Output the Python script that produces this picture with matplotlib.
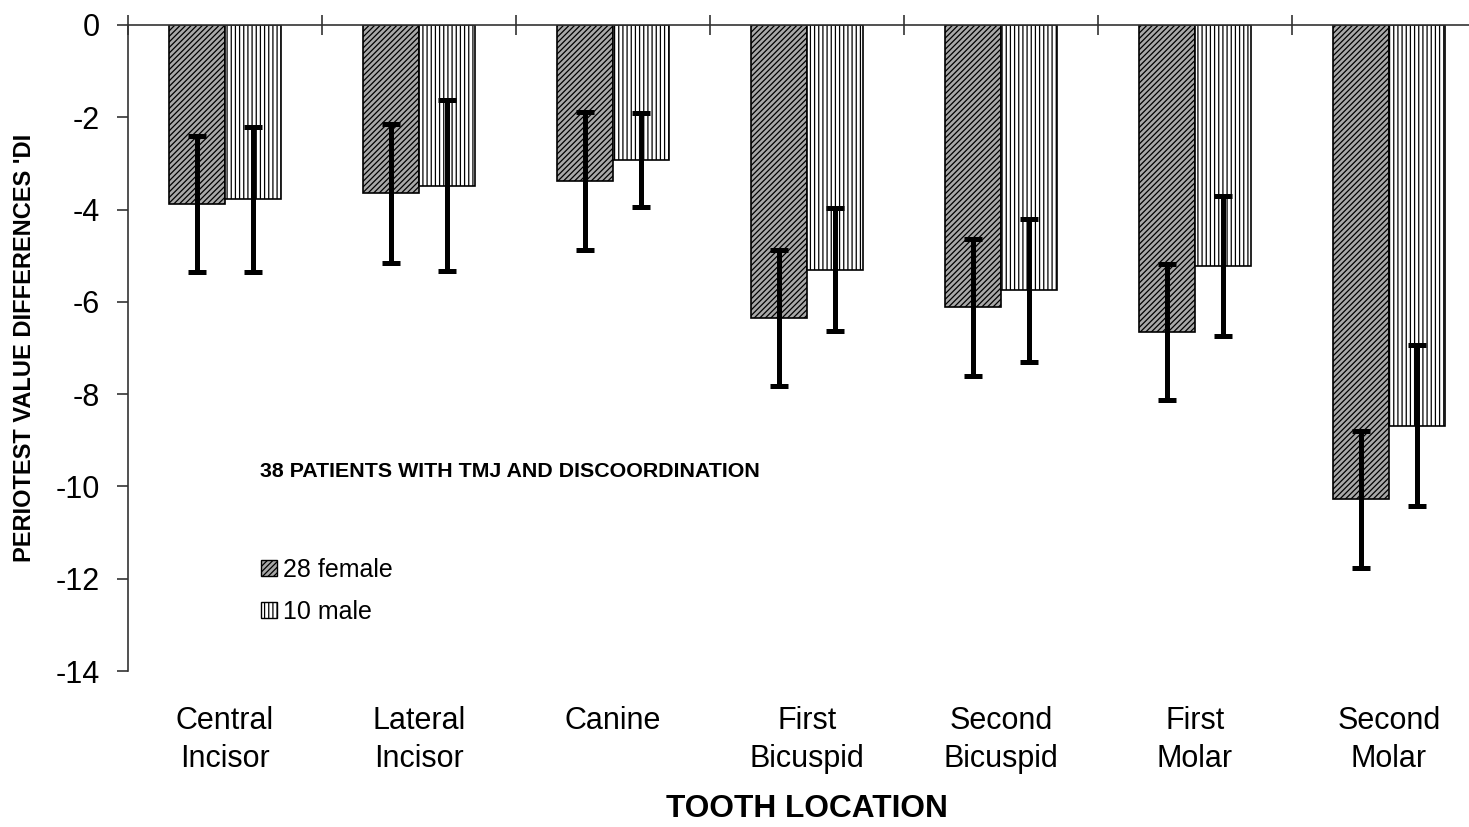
import matplotlib.pyplot as plt
import numpy as np
from matplotlib.patches import Patch

plt.rcParams['font.family'] = ['Liberation Sans', 'DejaVu Sans']
plt.rcParams['axes.unicode_minus'] = False
plt.rcParams['hatch.linewidth'] = 0.9

teeth = ["Central\nIncisor", "Lateral\nIncisor", "Canine", "First\nBicuspid",
         "Second\nBicuspid", "First\nMolar", "Second\nMolar"]

female = [-3.88, -3.65, -3.38, -6.35, -6.12, -6.65, -10.28]
female_err = [1.48, 1.50, 1.50, 1.47, 1.48, 1.48, 1.48]
male = [-3.78, -3.48, -2.92, -5.30, -5.75, -5.22, -8.68]
male_err = [1.57, 1.85, 1.02, 1.34, 1.55, 1.52, 1.75]

w = 0.29
x = np.arange(len(teeth))
fem_face = '#a8a8a8'

fig = plt.figure(figsize=(14.69, 8.27), dpi=100)
ax = fig.add_axes([0.0871, 0.1886, 1.0116 - 0.0871, 0.9698 - 0.1886])

ax.bar(x - w/2, female, w, facecolor=fem_face, edgecolor='black', hatch='//////',
       linewidth=1.2, label='28 female', zorder=2)
ax.bar(x + w/2, male, w, facecolor='white', edgecolor='black', hatch='||||',
       linewidth=1.2, label='10 male', zorder=2)
ax.errorbar(x - w/2, female, yerr=female_err, fmt='none', ecolor='black',
            elinewidth=3.6, capsize=6.5, capthick=3.6, zorder=3)
ax.errorbar(x + w/2, male, yerr=male_err, fmt='none', ecolor='black',
            elinewidth=3.6, capsize=6.5, capthick=3.6, zorder=3)

ax.set_xlim(-0.5, len(teeth) - 0.5)
ax.set_ylim(-14, 0)
ax.set_yticks(np.arange(-14, 1, 2))

# category names sit under the plot, boundary ticks cross the zero line
ax.set_xticks(x)
ax.set_xticklabels(teeth, fontsize=22, linespacing=1.38)
ax.tick_params(axis='x', which='major', length=0, pad=25)
ax.set_xticks(np.arange(len(teeth)) - 0.5, minor=True)
ax.tick_params(axis='x', which='minor', top=True, bottom=False,
               direction='inout', length=14, width=1.2, color='#333333')
ax.tick_params(axis='y', labelsize=22, length=8, width=1.2, pad=12, color='#333333')

for side in ['bottom', 'right']:
    ax.spines[side].set_visible(False)
for side in ['left', 'top']:
    ax.spines[side].set_linewidth(1.2)
    ax.spines[side].set_color('#333333')

ax.set_ylabel("PERIOTEST VALUE DIFFERENCES 'DI", fontsize=17, fontweight='bold',
              labelpad=14)
ax.set_xlabel("TOOTH LOCATION", fontsize=22.8, fontweight='bold')
ax.xaxis.set_label_coords(0.5, -0.19)

ax.text(0.18, -9.8, "38 PATIENTS WITH TMJ AND DISCOORDINATION", fontsize=15.4,
        fontweight='bold', va='baseline')

handles = [Patch(facecolor=fem_face, edgecolor='black', hatch='//////', label='28 female'),
           Patch(facecolor='white', edgecolor='black', hatch='||||', label='10 male')]
ax.legend(handles=handles, loc='upper left', bbox_to_anchor=(0.098, 0.175),
          frameon=False, fontsize=18, handlelength=0.64, handleheight=0.64,
          handletextpad=0.25, labelspacing=0.72, borderpad=0, borderaxespad=0)

fig.savefig('out.png', dpi=100)
